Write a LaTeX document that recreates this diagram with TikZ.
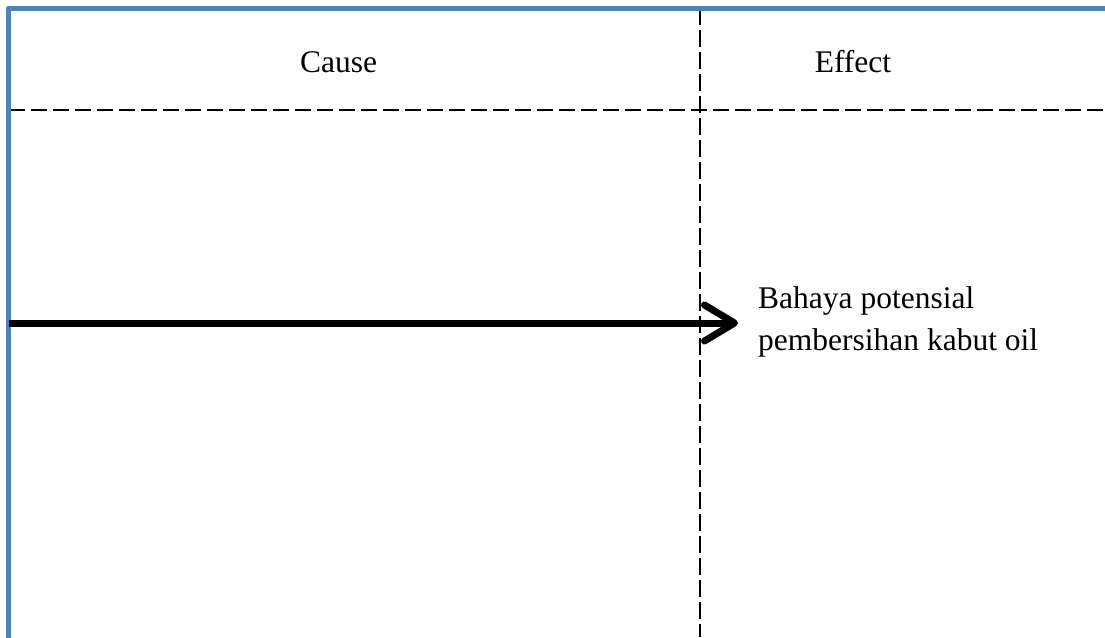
\documentclass[tikz,border=0pt]{standalone}
\usepackage{fontspec}
\setmainfont{Liberation Serif}
\usetikzlibrary{arrows.meta}
\definecolor{frameblue}{RGB}{79,129,189}
\tikzset{
  framestyle/.style={draw=frameblue, line width=5pt, line join=round},
  gridline/.style={draw=black, line width=1.8pt, dash pattern=on 16.5pt off 5.5pt},
  lbl/.style={inner sep=0pt, font=\fontsize{31.5}{42}\selectfont},
  bigarrow/.style={line width=7pt, -{Straight Barb[length=30pt,width=36pt,round]}}
}
\begin{document}
\begin{tikzpicture}[x=1pt,y=-1pt]
\useasboundingbox (0,0) rectangle (1105,637);
\fill[white] (0,0) rectangle (1105,637);
% dashed grid
\coordinate (hl) at (8.5,110);
\coordinate (hr) at (1105,110);
\coordinate (vt) at (700,8);
\coordinate (vb) at (700,637);
\draw[gridline] (hl) -- (hr);
\draw[gridline] (vt) -- (vb);
% frame
\coordinate (fb) at (8.5,640);
\coordinate (fc) at (8.5,8);
\coordinate (fr) at (1108,8);
\draw[framestyle] (fb) -- (fc) -- (fr);
% labels
\node[lbl, anchor=base] (cause) at (338.5,72) {Cause};
\node[lbl, anchor=base] (effect) at (853,72) {Effect};
\node[lbl, anchor=north west, align=left] (hazard) at (758,286) {Bahaya potensial\\pembersihan kabut oil};
% arrow
\coordinate (astart) at (8.5,323);
\coordinate (atip) at (738,323);
\draw[bigarrow] (astart) -- (atip);
\end{tikzpicture}
\end{document}
